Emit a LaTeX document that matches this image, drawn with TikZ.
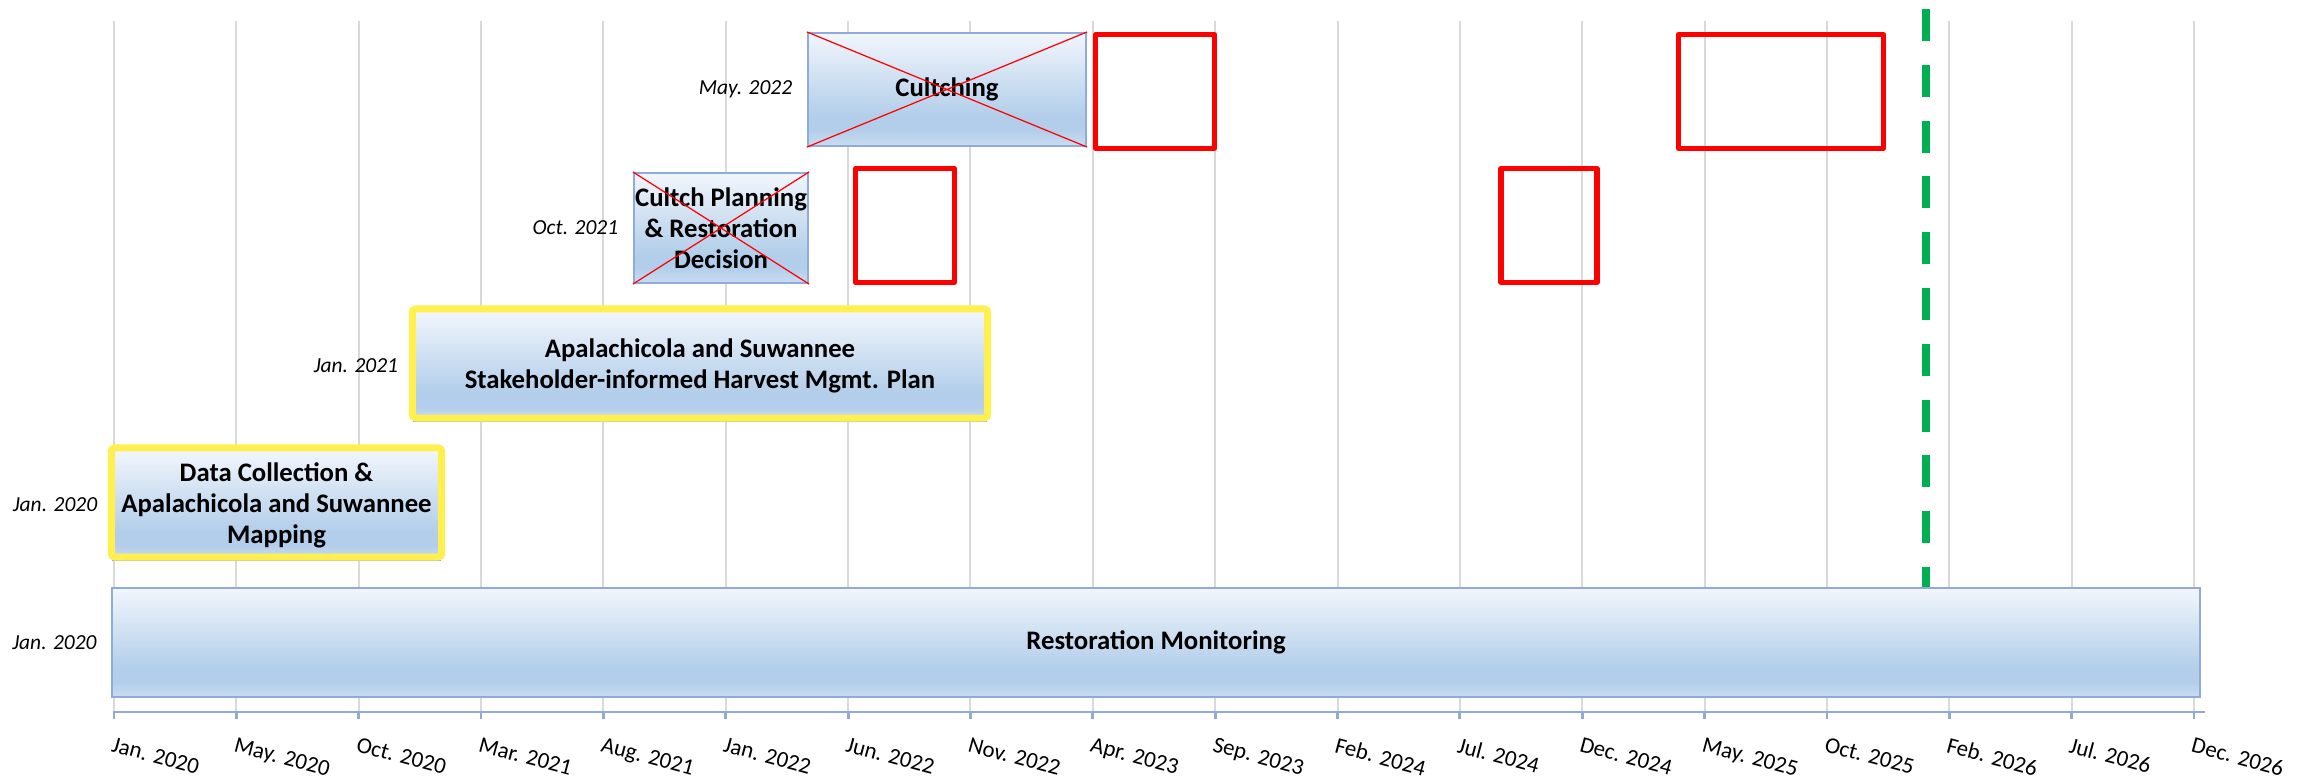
\documentclass[tikz,border=0pt]{standalone}
\usepackage{fontspec}
\setmainfont{Carlito}
\usetikzlibrary{positioning}
\definecolor{gridgray}{RGB}{217,217,217}
\definecolor{baredge}{RGB}{143,170,220}
\definecolor{bartop}{RGB}{242,246,252}
\definecolor{barlow}{RGB}{178,206,234}
\definecolor{barfoot}{RGB}{202,221,241}
\definecolor{hiyellow}{RGB}{255,240,80}
\definecolor{deadgreen}{RGB}{0,176,80}
\pgfdeclareverticalshading{barshade}{100bp}{color(0bp)=(barfoot); color(25bp)=(barfoot); color(32bp)=(barlow); color(38bp)=(barlow); color(75bp)=(bartop); color(100bp)=(bartop)}

\begin{document}
\begin{tikzpicture}[x=0.01cm, y=-0.01cm,
	gridline/.style={gridgray, line width=0.57pt},
	axisline/.style={baredge, line width=0.8pt},
	bar/.style={draw=baredge, line width=0.6pt, shading=barshade, align=center, inner sep=0pt,
		font=\fontsize{7.6}{8.8}\selectfont\bfseries},
	hilite/.style={draw=hiyellow, line width=2pt, rounded corners=1pt},
	xline/.style={red, line width=0.35pt},
	redbox/.style={draw=red, line width=1.56pt, line join=round, inner sep=0pt},
	datelbl/.style={inner sep=0pt, font=\fontsize{6.1}{7.5}\selectfont\itshape},
	ticklbl/.style={inner sep=0pt, anchor=north west, rotate=-15, font=\fontsize{6.5}{7.5}\selectfont},
	deadline/.style={deadgreen, line width=2.27pt, dash pattern=on 9.07pt off 6.8pt},
	node distance=0.14cm]
				\useasboundingbox (0,0) rectangle (2320,778);
				% grid and time axis
				\foreach \lbl [count=\i from 0] in {Jan. 2020, May. 2020, Oct. 2020, Mar. 2021, Aug. 2021, Jan. 2022, Jun. 2022, Nov. 2022, Apr. 2023, Sep. 2023, Feb. 2024, Jul. 2024, Dec. 2024, May. 2025, Oct. 2025, Feb. 2026, Jul. 2026, Dec. 2026}{
					\coordinate (tk\i) at ({114+\i*122.35},712);
					\draw[gridline] (tk\i) -- ++(0,-691);
					\draw[axisline] (tk\i) -- ++(0,7);
					\node[ticklbl] (tl\i) at ({114+\i*122.35},736) {\lbl};
				}
				\draw[axisline] ([xshift=-0.01cm]tk0) -- ([xshift=0.11cm]tk17);
				% bars
				\node[bar, minimum width=20.86cm, minimum height=1.09cm] (mon) at (1156,642.5) {Restoration Monitoring};
				\node[bar, minimum width=3.27cm, minimum height=1.1cm] (dc) at (276.5,505) {Data Collection \&\\Apalachicola and Suwannee\\Mapping};
				\node[bar, minimum width=5.72cm, minimum height=1.1cm] (hp) at (700,366) {Apalachicola and Suwannee\\Stakeholder-informed Harvest Mgmt. Plan};
				\node[bar, minimum width=1.74cm, minimum height=1.1cm] (cp) at (721,228) {Cultch Planning\\\& Restoration\\Decision};
				\node[bar, minimum width=2.78cm, minimum height=1.13cm] (cu) at (947,89.5) {Cultching};
				% start dates
				\node[datelbl, left=of mon] (dmon) {Jan. 2020};
				\node[datelbl, left=of dc] (ddc) {Jan. 2020};
				\node[datelbl, left=of hp] (dhp) {Jan. 2021};
				\node[datelbl, left=of cp] (dcp) {Oct. 2021};
				\node[datelbl, left=of cu] (dcu) {May. 2022};
				% highlights
				\draw[hilite] ([shift={(-0.5,-1)}]dc.north west) rectangle ([shift={(0.5,-4)}]dc.south east);
				\draw[hilite] ([shift={(-0.5,-1)}]hp.north west) rectangle ([shift={(0.5,-4)}]hp.south east);
				\draw[xline] (cp.north west) -- (cp.south east) (cp.south west) -- (cp.north east);
				\draw[xline] (cu.north west) -- (cu.south east) (cu.south west) -- (cu.north east);
				% open slots
				\node[redbox, minimum width=0.987cm, minimum height=1.136cm] (slot1) at (905,225.5) {};
				\node[redbox, minimum width=1.187cm, minimum height=1.136cm] (slot2) at (1155,91.5) {};
				\node[redbox, minimum width=0.955cm, minimum height=1.136cm] (slot3) at (1549,225.5) {};
				\node[redbox, minimum width=2.045cm, minimum height=1.136cm] (slot4) at (1781,91.5) {};
				% today
				\coordinate (dl) at (1926,9);
				\draw[deadline] (dl) -- (dl |- mon.north);
			\end{tikzpicture}
\end{document}
